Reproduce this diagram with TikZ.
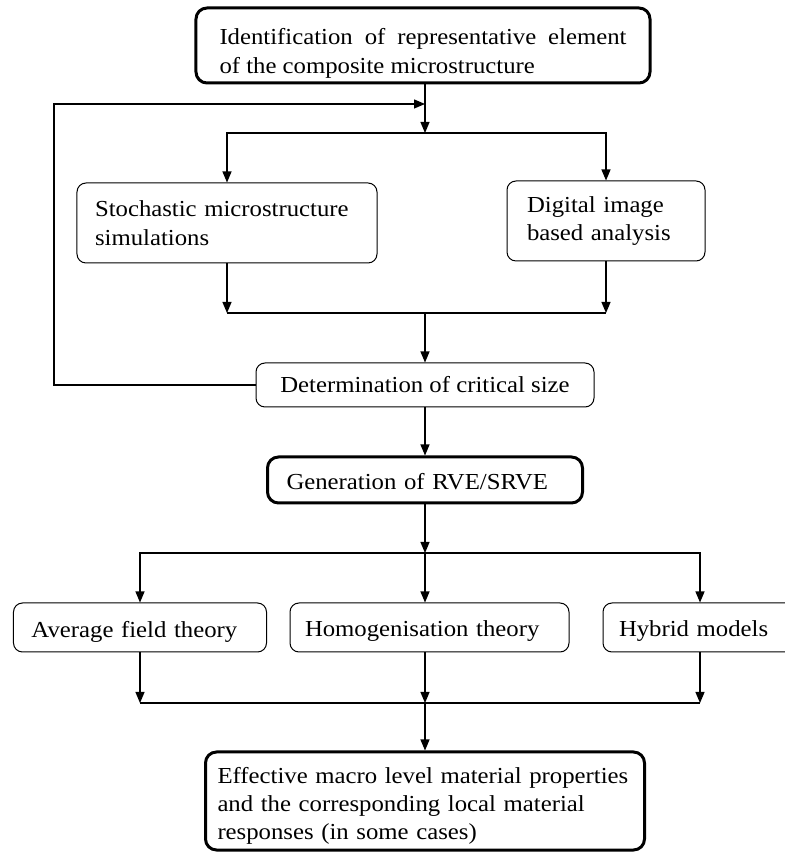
\documentclass[tikz,border=0pt]{standalone}
\usepackage{fontspec}
\setmainfont{Liberation Serif}[FakeStretch=1.08]
\usepackage{tikz}
\usetikzlibrary{
    arrows.meta,
    positioning,
    calc
}

\tikzset{
    stage/.style={draw,line width=1bp,rounded corners=9bp,inner ysep=0bp,
        align=left,font=\fontsize{23}{28.5}\selectfont},
    keystage/.style={stage,line width=3bp,rounded corners=11bp},
    flow/.style={line width=1.2bp,-{Triangle[length=11bp,width=9bp]}},
    link/.style={line width=1.2bp}
}

\begin{document}
\begin{tikzpicture}[x=1bp,y=1bp]
            \clip (0,0) rectangle (785,852);
            \fill[white] (0,0) rectangle (785,852);
            % boxes
            \node[keystage,align=justify,text width=407bp,inner xsep=19bp,minimum width=454bp,minimum height=75bp]
                (ident) at (423,806.5) {\rule{0pt}{32bp}Identification of representative element\linebreak of the composite microstructure};
            \node[stage,text width=264bp,inner xsep=18bp,minimum height=80bp]
                (stoch) at (227,629) {Stochastic microstructure\\simulations};
            \node[stage,text width=158bp,inner xsep=20bp,minimum height=80bp]
                (digital) at (606,631) {Digital image\\based analysis};
            \node[stage,align=center,minimum width=338bp,minimum height=44bp]
                (determ) at (425,467) {Determination of critical size};
            \node[keystage,text width=277bp,inner xsep=19bp,minimum height=46bp]
                (gen) at (425,372) {\rule{0pt}{20bp}Generation of RVE/SRVE};
            \node[stage,text width=217bp,inner xsep=18bp,minimum height=49bp]
                (avg) at (140,224.5) {\rule{0pt}{24bp}Average field theory};
            \node[stage,text width=249bp,inner xsep=15bp,minimum height=49bp]
                (homog) at (429.5,224.5) {\rule{0pt}{22bp}Homogenisation theory};
            \node[stage,text width=162bp,inner xsep=16bp,minimum height=49bp]
                (hybrid) at (700,224.5) {\rule{0pt}{22bp}Hybrid models};
            \node[keystage,text width=415bp,inner xsep=12bp,minimum height=98bp]
                (final) at (425,51) {\rule{0pt}{26bp}Effective macro level material properties\\and the corresponding local material\\responses (in some cases)};
            % junctions
            \coordinate (fb) at (425,748);
            \coordinate (split) at (425,719);
            \coordinate (merge) at (425,539);
            \coordinate (loop) at (54,467);
            \coordinate (fork) at (425,299);
            \coordinate (gather) at (425,149);
            % connectors
            \draw[flow] (ident.south -| split) -- (split);
            \draw[flow] (determ) -- (loop) |- (fb);
            \draw[link] (stoch.north |- split) -- (digital.north |- split);
            \draw[flow] (split) -| (stoch);
            \draw[flow] (split) -| (digital);
            \draw[flow] (stoch) -- (stoch.south |- merge);
            \draw[flow] (digital) -- (digital.south |- merge);
            \draw[link] (stoch.south |- merge) -- (digital.south |- merge);
            \draw[flow] (merge) -- (determ);
            \draw[flow] (determ) -- (gen);
            \draw[flow] (gen) -- (fork);
            \draw[link] (avg.north |- fork) -- (hybrid.north |- fork);
            \draw[flow] (fork) -| (avg);
            \draw[flow] (fork) -- (fork |- homog.north);
            \draw[flow] (fork) -| (hybrid);
            \draw[flow] (avg) -- (avg.south |- gather);
            \draw[flow] (gather |- homog.south) -- (gather);
            \draw[flow] (hybrid) -- (hybrid.south |- gather);
            \draw[link] (avg.south |- gather) -- (hybrid.south |- gather);
            \draw[flow] (gather) -- (final);
        \end{tikzpicture}
\end{document}
